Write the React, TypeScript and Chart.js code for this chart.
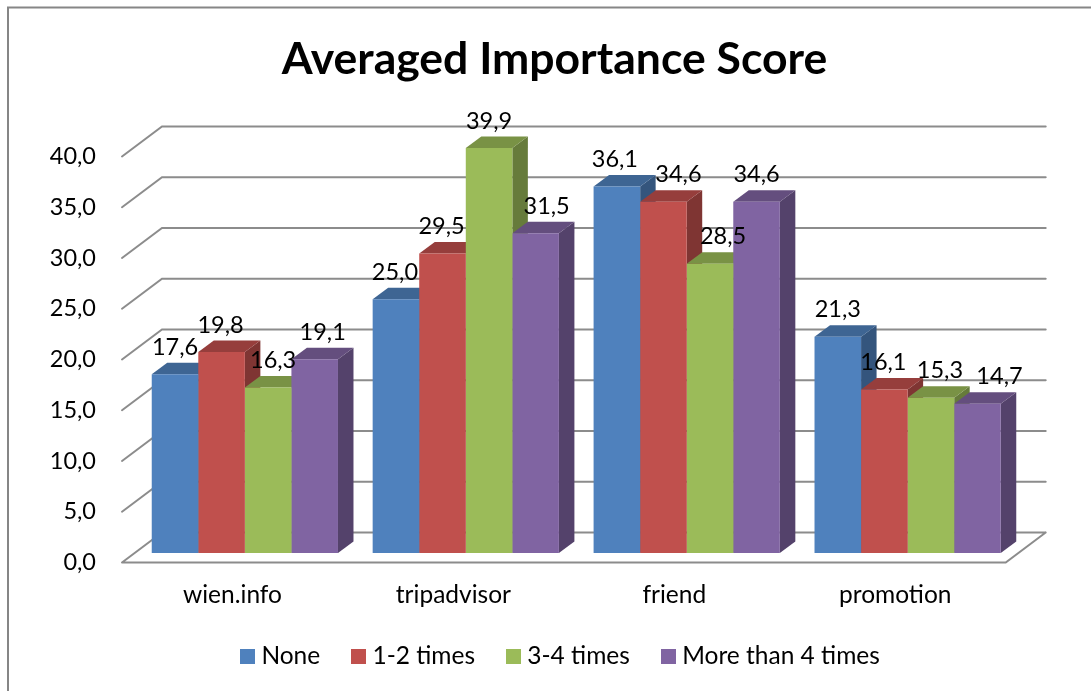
import React, { useEffect, useRef } from "react";
import { Chart, registerables } from "chart.js";

Chart.register(...registerables);

const categories = ["wien.info", "tripadvisor", "friend", "promotion"];
const seriesNames = ["None", "1-2 times", "3-4 times", "More than 4 times"];
const noneValues = [17.6, 25.0, 36.1, 21.3];
const oneTwoValues = [19.8, 29.5, 34.6, 16.1];
const threeFourValues = [16.3, 39.9, 28.5, 15.3];
const moreValues = [19.1, 31.5, 34.6, 14.7];
const seriesValues = [noneValues, oneTwoValues, threeFourValues, moreValues];
const frontColors = ["#4F81BD", "#C0504D", "#9BBB59", "#8064A2"];
const FONT = "Lato";
const GRID = "#8c8c8c";

const shade = (hex: string, f: number) => {
  const n = parseInt(hex.slice(1), 16);
  const c = [(n >> 16) & 255, (n >> 8) & 255, n & 255].map((v) => Math.round(v * f));
  return `rgb(${c[0]},${c[1]},${c[2]})`;
};
const comma = (v: number) => v.toFixed(1).replace(".", ",");

const swatch = (color: string) => {
  const c = document.createElement("canvas");
  c.width = 15;
  c.height = 15;
  const g = c.getContext("2d")!;
  g.fillStyle = color;
  g.fillRect(0, 0, 15, 15);
  return c;
};

const labelNudge = [
  [0, -1, 5, 8],
  [-1, -1, 0, 11],
  [-2, 15, 13, 0],
  [0, -1, 9, 22],
];

const WALL = { dx: 40, dy: -30 };
const BAR = { dx: 12.4, dy: -9.5 };
const DEPTH = { dx: 15.5, dy: -11.5 };

const scene = {
  id: "scene3d",
  afterLayout(chart: any) {
    const l = chart.legend;
    l.left = 0;
    l.right = 1126;
    l.top = 607.3;
    l.bottom = 691;
    const t = chart.titleBlock;
    t.left = 0;
    t.right = 1109;
  },
  beforeDraw(chart: any) {
    const { ctx } = chart;
    ctx.save();
    ctx.fillStyle = "#fff";
    ctx.fillRect(0, 0, chart.width, chart.height);
    ctx.strokeStyle = "#868686";
    ctx.lineWidth = 2;
    ctx.beginPath();
    ctx.moveTo(8, chart.height);
    ctx.lineTo(8, 7.5);
    ctx.lineTo(chart.width, 7.5);
    ctx.stroke();
    ctx.restore();
  },
  beforeDatasetsDraw(chart: any) {
    const { ctx, scales } = chart;
    const { x, y } = scales;
    ctx.save();
    ctx.strokeStyle = GRID;
    ctx.lineWidth = 2;
    ctx.lineCap = "round";
    ctx.beginPath();
    y.ticks.forEach((t: any) => {
      const py = y.getPixelForValue(t.value);
      ctx.moveTo(x.left, py);
      ctx.lineTo(x.left + WALL.dx, py + WALL.dy);
      ctx.lineTo(x.right + WALL.dx, py + WALL.dy);
    });
    const y0 = y.getPixelForValue(0);
    ctx.moveTo(x.left, y0);
    ctx.lineTo(x.right, y0);
    ctx.lineTo(x.right + WALL.dx, y0 + WALL.dy);
    ctx.stroke();
    ctx.restore();

    ctx.save();
    ctx.translate(BAR.dx, BAR.dy);
    categories.forEach((_, i) => {
      seriesValues.forEach((_s, d) => {
        const b = chart.getDatasetMeta(d).data[i];
        const half = b.width / 2;
        const l = b.x - half;
        const r = b.x + half;
        const t = b.y;
        const base = b.base;
        ctx.fillStyle = shade(frontColors[d], 0.66);
        ctx.beginPath();
        ctx.moveTo(r, t);
        ctx.lineTo(r + DEPTH.dx, t + DEPTH.dy);
        ctx.lineTo(r + DEPTH.dx, base + DEPTH.dy);
        ctx.lineTo(r, base);
        ctx.closePath();
        ctx.fill();
        ctx.fillStyle = shade(frontColors[d], 0.78);
        ctx.beginPath();
        ctx.moveTo(l, t);
        ctx.lineTo(l + DEPTH.dx, t + DEPTH.dy);
        ctx.lineTo(r + DEPTH.dx, t + DEPTH.dy);
        ctx.lineTo(r, t);
        ctx.closePath();
        ctx.fill();
      });
    });
    // kept open so the library's own bar fronts land on the shifted plane
  },
  afterDatasetsDraw(chart: any) {
    const { ctx } = chart;
    ctx.restore();
    ctx.save();
    ctx.translate(BAR.dx, BAR.dy);
    ctx.fillStyle = "#000";
    ctx.font = `23.5px ${FONT}`;
    ctx.textAlign = "center";
    ctx.textBaseline = "middle";
    categories.forEach((_, i) => {
      seriesValues.forEach((vals, d) => {
        const b = chart.getDatasetMeta(d).data[i];
        ctx.fillText(comma(vals[i]), b.x + labelNudge[i][d], b.y - 27);
      });
    });
    ctx.restore();
  },
};

export default function App() {
  const ref = useRef<HTMLCanvasElement>(null);
  useEffect(() => {
    const chart = new Chart(ref.current!, {
      type: "bar",
      data: {
        labels: categories,
        datasets: seriesNames.map((name, d) => ({
          label: name,
          data: seriesValues[d],
          backgroundColor: frontColors[d],
          borderWidth: 0,
          categoryPercentage: 0.843,
          barPercentage: 1,
          clip: false as any,
        })),
      },
      options: {
        responsive: false,
        animation: false,
        devicePixelRatio: 1,
        layout: { padding: { left: 0, right: 85.3, top: 0, bottom: 0 } },
        plugins: {
          title: {
            display: true,
            text: "Averaged Importance Score",
            color: "#000",
            font: { family: FONT, size: 44.5, weight: "bold" },
            padding: { top: 33.3, bottom: 69.8 },
          },
          legend: {
            position: "bottom",
            labels: {
              color: "#000",
              font: { family: FONT, size: 24.5 },
              usePointStyle: true,
              pointStyleWidth: 3,
              padding: 37,
              generateLabels: () =>
                seriesNames.map((name, d) => ({
                  text: name,
                  fillStyle: frontColors[d],
                  strokeStyle: frontColors[d],
                  lineWidth: 0,
                  pointStyle: swatch(frontColors[d]),
                  datasetIndex: d,
                  hidden: false,
                  fontColor: "#000",
                })),
            },
          },
          tooltip: { enabled: false },
        },
        scales: {
          x: {
            grid: { display: false },
            border: { display: false },
            ticks: {
              color: "#000",
              font: { family: FONT, size: 24.5 },
              padding: 10,
              maxRotation: 0,
            },
            afterFit(scale: any) {
              scale.height = 57;
            },
          },
          y: {
            min: 0,
            max: 40,
            grid: { display: false, drawTicks: false },
            border: { display: false },
            ticks: {
              stepSize: 5,
              color: "#000",
              font: { family: FONT, size: 23.5 },
              padding: 26,
              callback: (v: any) => comma(Number(v)),
            },
            afterFit(scale: any) {
              scale.width = 122;
            },
          },
        },
      } as any,
      plugins: [scene as any],
    });
    return () => chart.destroy();
  }, []);
  return (
    <div style={{ position: "absolute", left: 0, top: 0, width: 1091, height: 691 }}>
      <canvas ref={ref} width={1091} height={691} style={{ display: "block" }} />
    </div>
  );
}
